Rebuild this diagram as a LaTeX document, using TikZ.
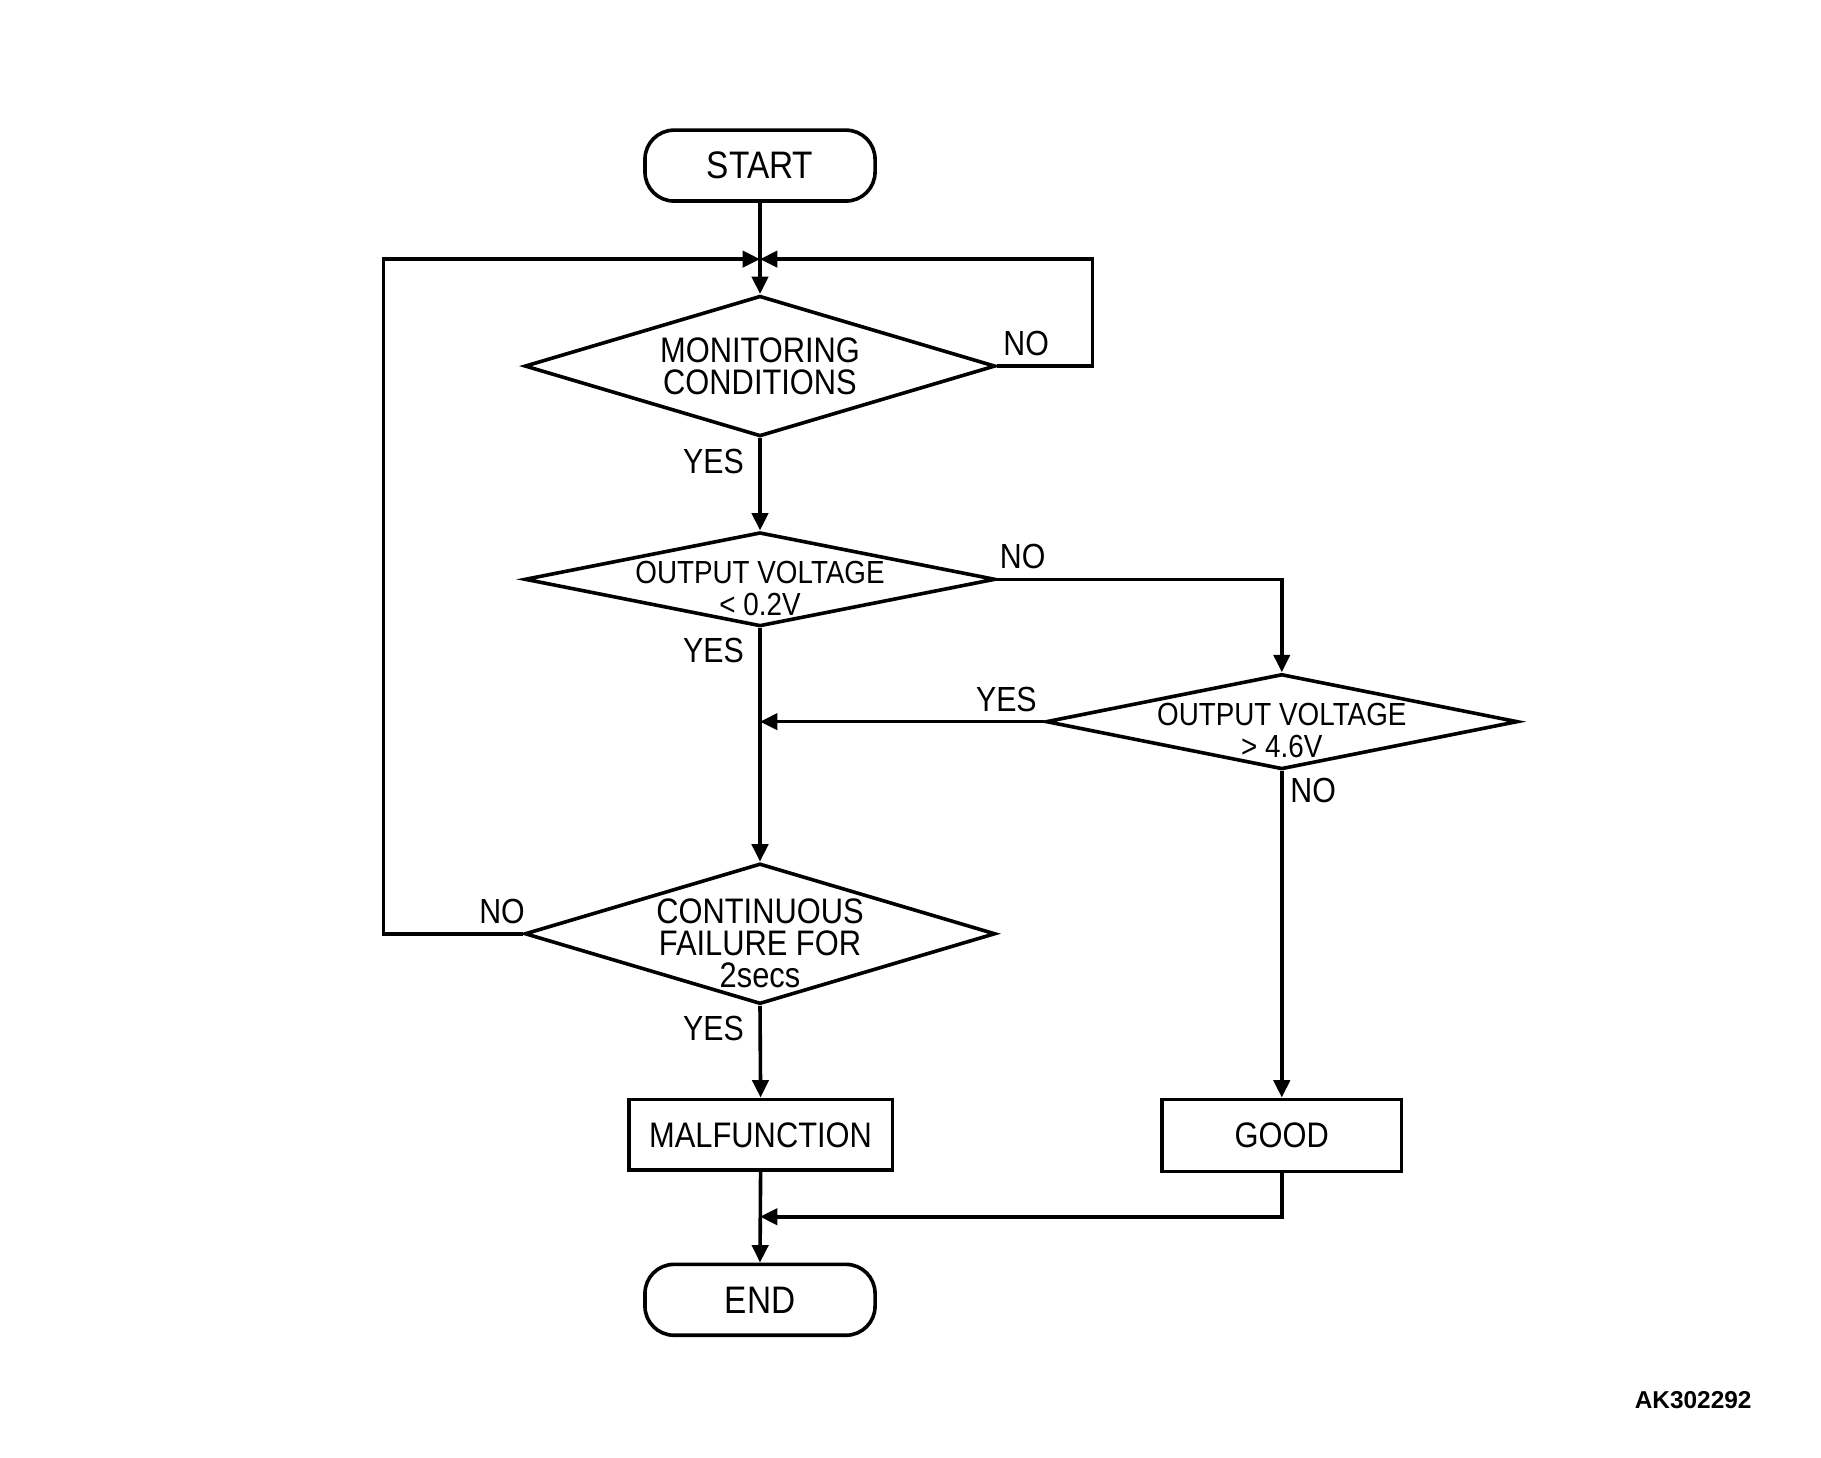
\documentclass[tikz,border=0pt]{standalone}
\usepackage{fontspec}
\newfontfamily\nf{Liberation Sans}[FakeStretch=0.87]
\newfontfamily\akfont{Liberation Sans}
\usetikzlibrary{arrows.meta,shapes.geometric}
\begin{document}
\begin{tikzpicture}[x=1pt,y=-1pt,
  line width=3.1pt,
  arr/.style={-{Triangle[length=15pt,width=14pt]}},
  term/.style={draw,rounded corners=25pt,minimum width=198pt,minimum height=61pt,inner sep=0pt,font=\nf\fontsize{33}{30}\selectfont},
  procbox/.style={draw,rectangle,minimum height=61pt,inner sep=0pt,font=\nf\fontsize{30.5}{27}\selectfont},
  dia/.style={draw,diamond,inner sep=0pt,aspect=3},
  dtext/.style={align=center,inner sep=0pt,font=\nf\fontsize{30.5}{27.5}\selectfont},
  vtext/.style={align=center,inner sep=0pt,font=\nf\fontsize{27.5}{27.5}\selectfont},
  lab/.style={inner sep=0pt,font=\nf\fontsize{30}{27}\selectfont}]
\useasboundingbox (0,0) rectangle (1567,1254);

% terminals and boxes
\node[term] (start) at (654,142.5) {START};
\node[term] (end) at (654,1118.5) {END};
\node[procbox,minimum width=227pt] (mal) at (654.5,976.5) {MALFUNCTION};
\node[procbox,minimum width=206pt,minimum height=62pt] (good) at (1103,977) {GOOD};

% decisions
\node[dia,minimum width=405pt,minimum height=121pt,
  label={[dtext,yshift=0pt]center:MONITORING\\CONDITIONS}] (d1) at (654,315) {};
\node[dia,minimum width=405pt,minimum height=81pt,
  label={[vtext,yshift=-8pt]center:OUTPUT VOLTAGE\\< 0.2V}] (d2) at (654,498.5) {};
\node[dia,minimum width=406pt,minimum height=82pt,
  label={[vtext,yshift=-8pt]center:OUTPUT VOLTAGE\\> 4.6V}] (d3) at (1103,621) {};
\node[dia,minimum width=405pt,minimum height=121pt,
  label={[dtext,yshift=-8pt]center:CONTINUOUS\\FAILURE FOR\\2secs}] (d4) at (654,803.5) {};

% helper coordinates
\coordinate (j) at (654,223);
\coordinate (r1) at (940,315);
\coordinate (r2) at (940,223);
\coordinate (l1) at (330,803.5);
\coordinate (l2) at (330,223);
\coordinate (m) at (654,621);
\coordinate (k) at (654,1047);

% connectors
\draw (start) -- (j);
\draw[arr] (j) -- (d1.north);
\draw[arr] (d1.east) -- (r1) -- (r2) -- (j);
\draw[arr] (d4.west) -- (l1) -- (l2) -- (j);
\draw[arr] (d1.south) -- (d2.north);
\draw[arr] (d2.east) -| (d3.north);
\draw[arr] (d2.south) -- (d4.north);
\draw[arr] (d3.west) -- (m);
\draw[arr] (d3.south) -- (good.north);
\draw[arr] (d4.south) -- (mal.north);
\draw[arr] (mal.south) -- (end.north);
\draw[arr] (good.south) |- (k);

% labels
\node[lab] (n1) at (883,296) {NO};
\node[lab] (y1) at (614,397) {YES};
\node[lab] (n2) at (880,479) {NO};
\node[lab] (y2) at (614,560) {YES};
\node[lab] (y3) at (866,602) {YES};
\node[lab] (n3) at (1130,680) {NO};
\node[lab] (n4) at (432,784) {NO};
\node[lab] (y4) at (614,885) {YES};

\node[inner sep=0pt,font=\akfont\bfseries\fontsize{21}{24}\selectfont] (ak) at (1457,1205) {AK302292};
\end{tikzpicture}
\end{document}
